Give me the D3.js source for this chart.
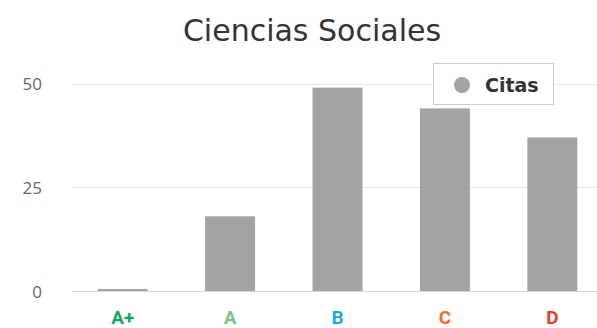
<!DOCTYPE html>
<html>
<head>
<meta charset="utf-8">
<script src="https://cdn.jsdelivr.net/npm/d3@7"></script>
<style>
  html, body { margin: 0; padding: 0; background: #fff; }
  svg { display: block; }
</style>
</head>
<body>
<svg id="chart" width="597" height="328"></svg>
<script>
// Citation counts per grade for the social sciences field
const categories = ["A+", "A", "B", "C", "D"];
const citas = [0.5, 18, 49, 44, 37];
const categoryColors = ["#15a85b", "#7dc384", "#17aedc", "#ff6a1f", "#f03a2a"];
const yTicks = [0, 25, 50];
const titleText = "Ciencias Sociales";
const seriesName = "Citas";

const width = 597, height = 328;
const svg = d3.select("#chart");

const x = d3.scaleBand()
  .domain(categories)
  .range([69, 606])
  .paddingInner(0.535)
  .paddingOuter(0.2675);

const y = d3.scaleLinear()
  .domain([0, 50])
  .range([291, 83.5]);

// Horizontal gridlines
svg.append("g")
  .selectAll("line")
  .data(yTicks)
  .join("line")
  .attr("x1", 72)
  .attr("x2", width)
  .attr("y1", d => Math.round(y(d)) + 0.5)
  .attr("y2", d => Math.round(y(d)) + 0.5)
  .attr("stroke", "#e6e6e6")
  .attr("stroke-width", 1);

// Y axis labels
const yAxis = d3.axisLeft(y).tickValues(yTicks).tickSize(0).tickPadding(0);
const yG = svg.append("g")
  .attr("transform", "translate(42,0)")
  .call(yAxis);
yG.select(".domain").remove();
yG.selectAll("text")
  .attr("fill", "#666")
  .attr("font-family", "'Open Sans', 'DejaVu Sans', sans-serif")
  .attr("font-size", 17)
  .attr("dy", "0.36em");

// Bars
svg.append("g")
  .selectAll("rect")
  .data(citas)
  .join("rect")
  .attr("x", (d, i) => x(categories[i]))
  .attr("width", x.bandwidth())
  .attr("y", d => y(d))
  .attr("height", d => y(0) - y(d))
  .attr("fill", "#a3a3a3");

// Baseline
svg.append("line")
  .attr("x1", 72).attr("x2", width)
  .attr("y1", Math.round(y(0)) + 0.5).attr("y2", Math.round(y(0)) + 0.5)
  .attr("stroke", "#d8d8d8");

// X axis labels, coloured by grade
const xAxis = d3.axisBottom(x).tickSize(0).tickPadding(0);
const xG = svg.append("g")
  .attr("transform", "translate(0,317)")
  .call(xAxis);
xG.select(".domain").remove();
xG.selectAll("text")
  .attr("fill", (d, i) => categoryColors[i])
  .attr("font-family", "Roboto, 'Open Sans', sans-serif")
  .attr("font-weight", "bold")
  .attr("font-size", 19)
  .attr("dy", "0.36em");

// Title
svg.append("text")
  .attr("x", 312)
  .attr("y", 41)
  .attr("text-anchor", "middle")
  .attr("fill", "#333")
  .attr("font-family", "'DejaVu Sans', sans-serif")
  .attr("font-size", 30)
  .text(titleText);

// Legend
const legend = svg.append("g").attr("transform", "translate(433,63)");
legend.append("rect")
  .attr("x", 0.5).attr("y", 0.5)
  .attr("width", 120).attr("height", 41)
  .attr("fill", "#fff")
  .attr("stroke", "#cccccc");
legend.append("circle")
  .attr("cx", 29).attr("cy", 22)
  .attr("r", 8)
  .attr("fill", "#a3a3a3");
legend.append("text")
  .attr("x", 52).attr("y", 22)
  .attr("dy", "0.36em")
  .attr("fill", "#333")
  .attr("font-family", "'DejaVu Sans', sans-serif")
  .attr("font-weight", "bold")
  .attr("font-size", 19)
  .text(seriesName);
</script>
</body>
</html>
